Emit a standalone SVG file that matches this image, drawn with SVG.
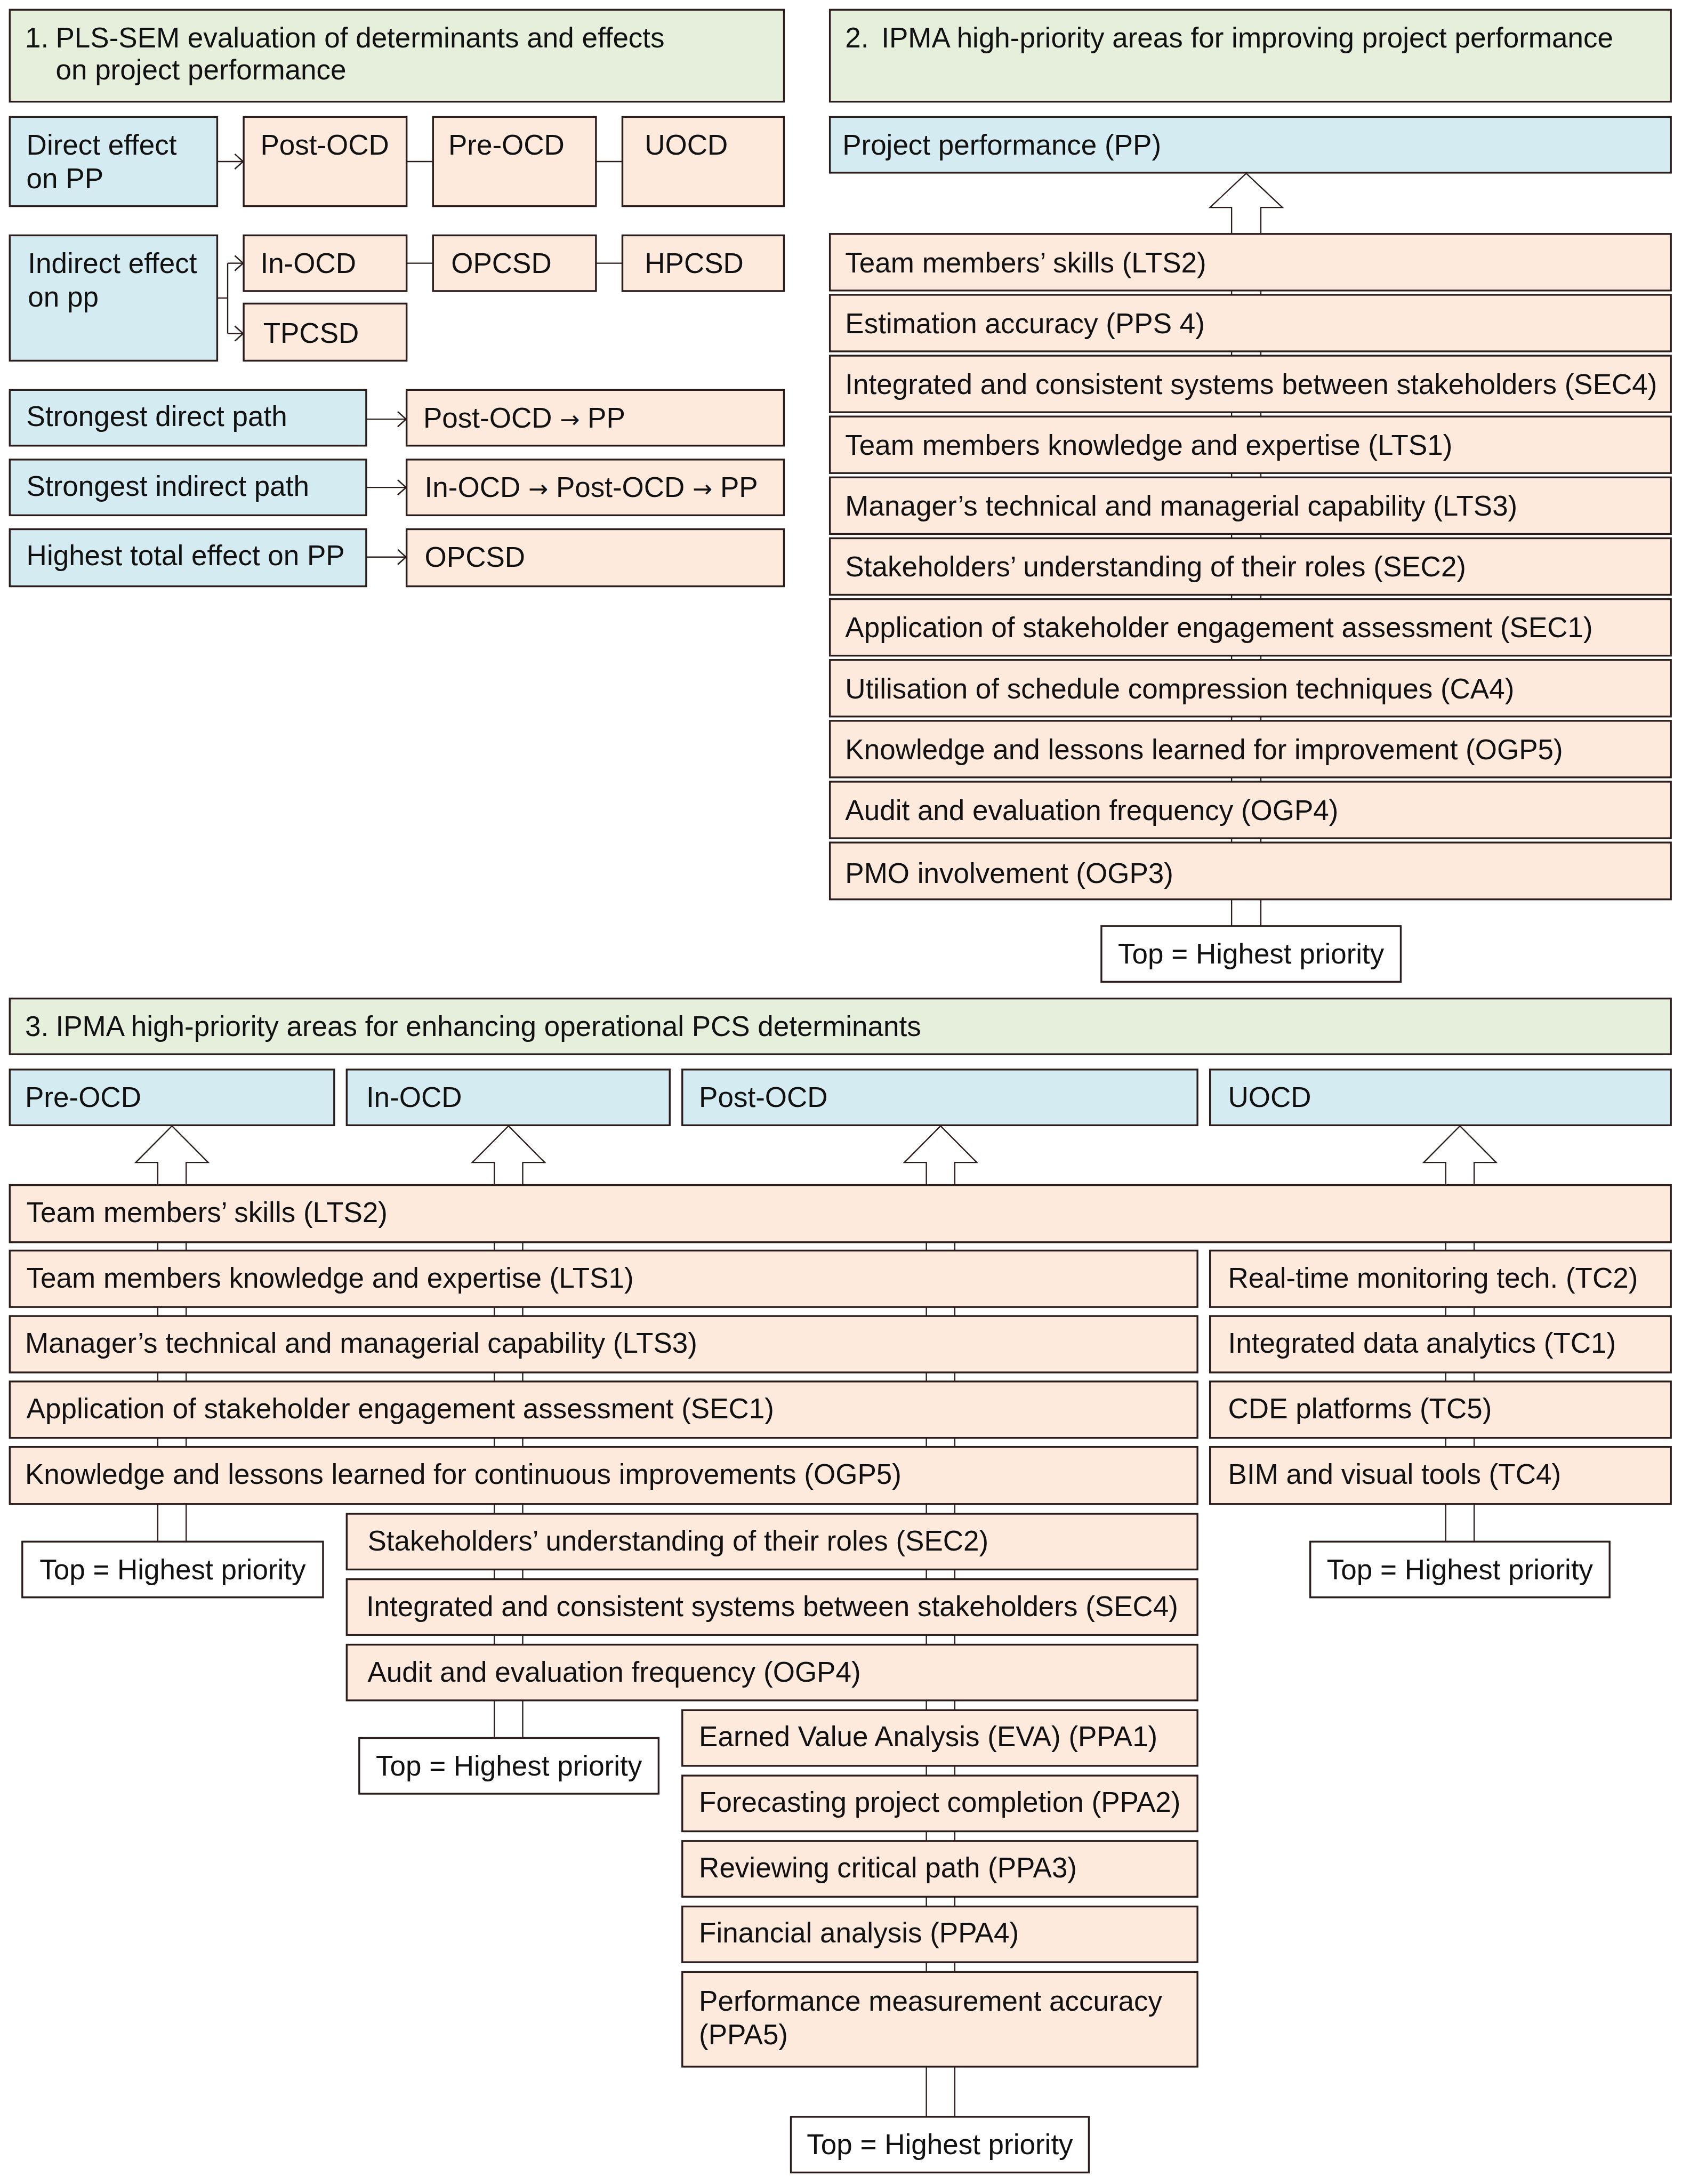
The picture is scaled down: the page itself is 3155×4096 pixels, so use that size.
<svg xmlns="http://www.w3.org/2000/svg" width="3155" height="4096" viewBox="0 0 3155 4096">
<style>
.g{fill:#e6efdc;stroke:#2b1d1b;stroke-width:1.3}
.b{fill:#d4ecf1;stroke:#2b1d1b;stroke-width:1.3}
.p{fill:#fdeadc;stroke:#2b1d1b;stroke-width:1.3}
.w{fill:#ffffff;stroke:#2b1d1b;stroke-width:1.3}
.t{font-family:"Liberation Sans",Arial,Helvetica,sans-serif;font-size:20.3px;fill:#111111}
.ar{font-family:"DejaVu Sans",sans-serif;font-size:17px}
.m{text-anchor:middle}
.c{fill:none;stroke:#2b1d1b;stroke-width:0.9}
.h{fill:#ffffff;stroke:#2b1d1b;stroke-width:0.9;stroke-linejoin:miter}
</style>
<defs>
<marker id="chev" viewBox="0 0 7 12" markerWidth="7" markerHeight="12" refX="7" refY="6" orient="auto" markerUnits="userSpaceOnUse">
<path d="M0.6,0.6 L6.6,6 L0.6,11.4" fill="none" stroke="#2b1d1b" stroke-width="1"/>
</marker>
</defs>
<rect x="0" y="0" width="3155" height="4096" fill="#ffffff"/>
<g transform="scale(2.6118)">
<g id="connectors">
<line class="c" x1="156" y1="116" x2="175" y2="116" marker-end="url(#chev)"/>
<line class="c" x1="292" y1="116" x2="311" y2="116"/>
<line class="c" x1="428" y1="116" x2="447" y2="116"/>
<path class="c" d="M156,214 H163.5 M163.5,189 V239.5"/>
<line class="c" x1="163.5" y1="189" x2="175" y2="189" marker-end="url(#chev)"/>
<line class="c" x1="163.5" y1="239.5" x2="175" y2="239.5" marker-end="url(#chev)"/>
<line class="c" x1="292" y1="189" x2="311" y2="189"/>
<line class="c" x1="428" y1="189" x2="447" y2="189"/>
<line class="c" x1="263" y1="301" x2="292" y2="301" marker-end="url(#chev)"/>
<line class="c" x1="263" y1="350" x2="292" y2="350" marker-end="url(#chev)"/>
<line class="c" x1="263" y1="400" x2="292" y2="400" marker-end="url(#chev)"/>
<path class="h" d="M895,124.5 L921,149 L905.5,149 L905.5,665 L884.5,665 L884.5,149 L869,149 Z"/>
<path class="h" d="M123.5,808.5 L149.5,834.7 L133.7,834.7 L133.7,1107 L113.3,1107 L113.3,834.7 L97.5,834.7 Z"/>
<path class="h" d="M365.2,808.5 L391.2,834.7 L375.4,834.7 L375.4,1248 L355,1248 L355,834.7 L339.2,834.7 Z"/>
<path class="h" d="M675.5,808.5 L701.5,834.7 L685.7,834.7 L685.7,1520 L665.3,1520 L665.3,834.7 L649.5,834.7 Z"/>
<path class="h" d="M1048.5,808.5 L1074.5,834.7 L1058.7,834.7 L1058.7,1107 L1038.3,1107 L1038.3,834.7 L1022.5,834.7 Z"/>
</g>

<g id="s1-header"><rect class="g" x="7" y="7" width="556" height="66"/>
<text class="t" y="34"><tspan x="18">1.</tspan><tspan x="40">PLS-SEM evaluation of determinants and effects</tspan></text>
<text class="t" x="40" y="57">on project performance</text></g>
<g id="s1-direct"><rect class="b" x="7" y="84" width="149" height="64"/><text class="t" x="19" y="111">Direct effect</text><text class="t" x="19" y="135">on PP</text></g>
<g id="s1-post"><rect class="p" x="175" y="84" width="117" height="64"/><text class="t" x="187" y="111">Post-OCD</text></g>
<g id="s1-pre"><rect class="p" x="311" y="84" width="117" height="64"/><text class="t" x="322" y="111">Pre-OCD</text></g>
<g id="s1-uocd"><rect class="p" x="447" y="84" width="116" height="64"/><text class="t" x="463" y="111">UOCD</text></g>
<g id="s1-indirect"><rect class="b" x="7" y="169" width="149" height="90"/><text class="t" x="20" y="196">Indirect effect</text><text class="t" x="20" y="220">on pp</text></g>
<g id="s1-inocd"><rect class="p" x="175" y="169" width="117" height="40"/><text class="t" x="187" y="196">In-OCD</text></g>
<g id="s1-opcsd"><rect class="p" x="311" y="169" width="117" height="40"/><text class="t" x="324" y="196">OPCSD</text></g>
<g id="s1-hpcsd"><rect class="p" x="447" y="169" width="116" height="40"/><text class="t" x="463" y="196">HPCSD</text></g>
<g id="s1-tpcsd"><rect class="p" x="175" y="218" width="117" height="41"/><text class="t" x="189" y="246">TPCSD</text></g>
<g id="s1-sdp"><rect class="b" x="7" y="280" width="256" height="40"/><text class="t" x="19" y="306">Strongest direct path</text></g>
<g id="s1-sdp-val"><rect class="p" x="292" y="280" width="271" height="40"/><text class="t" x="304" y="307">Post-OCD <tspan class="ar">→</tspan> PP</text></g>
<g id="s1-sip"><rect class="b" x="7" y="330" width="256" height="40"/><text class="t" x="19" y="356">Strongest indirect path</text></g>
<g id="s1-sip-val"><rect class="p" x="292" y="330" width="271" height="40"/><text class="t" x="305" y="357">In-OCD <tspan class="ar">→</tspan> Post-OCD <tspan class="ar">→</tspan> PP</text></g>
<g id="s1-hte"><rect class="b" x="7" y="380" width="256" height="41"/><text class="t" x="19" y="406">Highest total effect on PP</text></g>
<g id="s1-hte-val"><rect class="p" x="292" y="380" width="271" height="41"/><text class="t" x="305" y="407">OPCSD</text></g>

<g id="s2-header"><rect class="g" x="596" y="7" width="604" height="66"/>
<text class="t" y="34"><tspan x="607">2.</tspan><tspan x="633">IPMA high-priority areas for improving project performance</tspan></text></g>
<g id="s2-pp"><rect class="b" x="596" y="84" width="604" height="40"/><text class="t" x="605" y="111">Project performance (PP)</text></g>
<g id="s2-lts2"><rect class="p" x="596" y="168" width="604" height="40.6"/><text class="t" x="607" y="195.5">Team members’ skills (LTS2)</text></g>
<g id="s2-pps4"><rect class="p" x="596" y="211.7" width="604" height="40.6"/><text class="t" x="607" y="239.2">Estimation accuracy (PPS 4)</text></g>
<g id="s2-sec4"><rect class="p" x="596" y="255.4" width="604" height="40.6"/><text class="t" x="607" y="282.9">Integrated and consistent systems between stakeholders (SEC4)</text></g>
<g id="s2-lts1"><rect class="p" x="596" y="299.1" width="604" height="40.6"/><text class="t" x="607" y="326.6">Team members knowledge and expertise (LTS1)</text></g>
<g id="s2-lts3"><rect class="p" x="596" y="342.8" width="604" height="40.6"/><text class="t" x="607" y="370.3">Manager’s technical and managerial capability (LTS3)</text></g>
<g id="s2-sec2"><rect class="p" x="596" y="386.5" width="604" height="40.6"/><text class="t" x="607" y="414">Stakeholders’ understanding of their roles (SEC2)</text></g>
<g id="s2-sec1"><rect class="p" x="596" y="430.2" width="604" height="40.6"/><text class="t" x="607" y="457.7">Application of stakeholder engagement assessment (SEC1)</text></g>
<g id="s2-ca4"><rect class="p" x="596" y="473.9" width="604" height="40.6"/><text class="t" x="607" y="501.4">Utilisation of schedule compression techniques (CA4)</text></g>
<g id="s2-ogp5"><rect class="p" x="596" y="517.6" width="604" height="40.6"/><text class="t" x="607" y="545.1">Knowledge and lessons learned for improvement (OGP5)</text></g>
<g id="s2-ogp4"><rect class="p" x="596" y="561.3" width="604" height="40.6"/><text class="t" x="607" y="588.8">Audit and evaluation frequency (OGP4)</text></g>
<g id="s2-ogp3"><rect class="p" x="596" y="605" width="604" height="40.8"/><text class="t" x="607" y="634">PMO involvement (OGP3)</text></g>
<g id="s2-top"><rect class="w" x="791" y="665" width="215" height="40"/><text class="t m" x="898.5" y="692">Top = Highest priority</text></g>

<g id="s3-header"><rect class="g" x="7" y="717" width="1193" height="40"/>
<text class="t" y="744"><tspan x="18">3.</tspan><tspan x="40">IPMA high-priority areas for enhancing operational PCS determinants</tspan></text></g>
<g id="s3-pre"><rect class="b" x="7" y="768" width="233" height="40"/><text class="t" x="18" y="795">Pre-OCD</text></g>
<g id="s3-in"><rect class="b" x="249" y="768" width="232" height="40"/><text class="t" x="263" y="795">In-OCD</text></g>
<g id="s3-post"><rect class="b" x="490" y="768" width="370" height="40"/><text class="t" x="502" y="795">Post-OCD</text></g>
<g id="s3-uocd"><rect class="b" x="869" y="768" width="331" height="40"/><text class="t" x="882" y="795">UOCD</text></g>
<g id="s3-lts2"><rect class="p" x="7" y="851" width="1193" height="41"/><text class="t" x="19" y="877.5">Team members’ skills (LTS2)</text></g>
<g id="s3-lts1"><rect class="p" x="7" y="898" width="853" height="40.5"/><text class="t" x="19" y="924.5">Team members knowledge and expertise (LTS1)</text></g>
<g id="s3-lts3"><rect class="p" x="7" y="945" width="853" height="40.5"/><text class="t" x="18" y="971.5">Manager’s technical and managerial capability (LTS3)</text></g>
<g id="s3-sec1"><rect class="p" x="7" y="992" width="853" height="40.5"/><text class="t" x="19" y="1018.5">Application of stakeholder engagement assessment (SEC1)</text></g>
<g id="s3-ogp5"><rect class="p" x="7" y="1039" width="853" height="41"/><text class="t" x="18" y="1065.5">Knowledge and lessons learned for continuous improvements (OGP5)</text></g>
<g id="s3-tc2"><rect class="p" x="869" y="898" width="331" height="40.5"/><text class="t" x="882" y="924.5">Real-time monitoring tech. (TC2)</text></g>
<g id="s3-tc1"><rect class="p" x="869" y="945" width="331" height="40.5"/><text class="t" x="882" y="971.5">Integrated data analytics (TC1)</text></g>
<g id="s3-tc5"><rect class="p" x="869" y="992" width="331" height="40.5"/><text class="t" x="882" y="1018.5">CDE platforms (TC5)</text></g>
<g id="s3-tc4"><rect class="p" x="869" y="1039" width="331" height="41"/><text class="t" x="882" y="1065.5">BIM and visual tools (TC4)</text></g>
<g id="s3-top-pre"><rect class="w" x="16" y="1107" width="216" height="40"/><text class="t m" x="124" y="1134">Top = Highest priority</text></g>
<g id="s3-top-uocd"><rect class="w" x="941" y="1107" width="215" height="40"/><text class="t m" x="1048.5" y="1134">Top = Highest priority</text></g>
<g id="s3-sec2"><rect class="p" x="249" y="1087" width="611" height="40"/><text class="t" x="264" y="1113.5">Stakeholders’ understanding of their roles (SEC2)</text></g>
<g id="s3-sec4"><rect class="p" x="249" y="1134" width="611" height="40"/><text class="t" x="263" y="1160.5">Integrated and consistent systems between stakeholders (SEC4)</text></g>
<g id="s3-ogp4"><rect class="p" x="249" y="1181" width="611" height="40"/><text class="t" x="264" y="1207.5">Audit and evaluation frequency (OGP4)</text></g>
<g id="s3-top-in"><rect class="w" x="258" y="1248" width="215" height="40"/><text class="t m" x="365.5" y="1275">Top = Highest priority</text></g>
<g id="s3-ppa1"><rect class="p" x="490" y="1228" width="370" height="40"/><text class="t" x="502" y="1254">Earned Value Analysis (EVA) (PPA1)</text></g>
<g id="s3-ppa2"><rect class="p" x="490" y="1275" width="370" height="40"/><text class="t" x="502" y="1301">Forecasting project completion (PPA2)</text></g>
<g id="s3-ppa3"><rect class="p" x="490" y="1322" width="370" height="40"/><text class="t" x="502" y="1348">Reviewing critical path (PPA3)</text></g>
<g id="s3-ppa4"><rect class="p" x="490" y="1369" width="370" height="40"/><text class="t" x="502" y="1395">Financial analysis (PPA4)</text></g>
<g id="s3-ppa5"><rect class="p" x="490" y="1416" width="370" height="68"/><text class="t" x="502" y="1444">Performance measurement accuracy</text><text class="t" x="502" y="1468">(PPA5)</text></g>
<g id="s3-top-post"><rect class="w" x="568" y="1520" width="214" height="40"/><text class="t m" x="675" y="1547">Top = Highest priority</text></g>
</g>
</svg>
